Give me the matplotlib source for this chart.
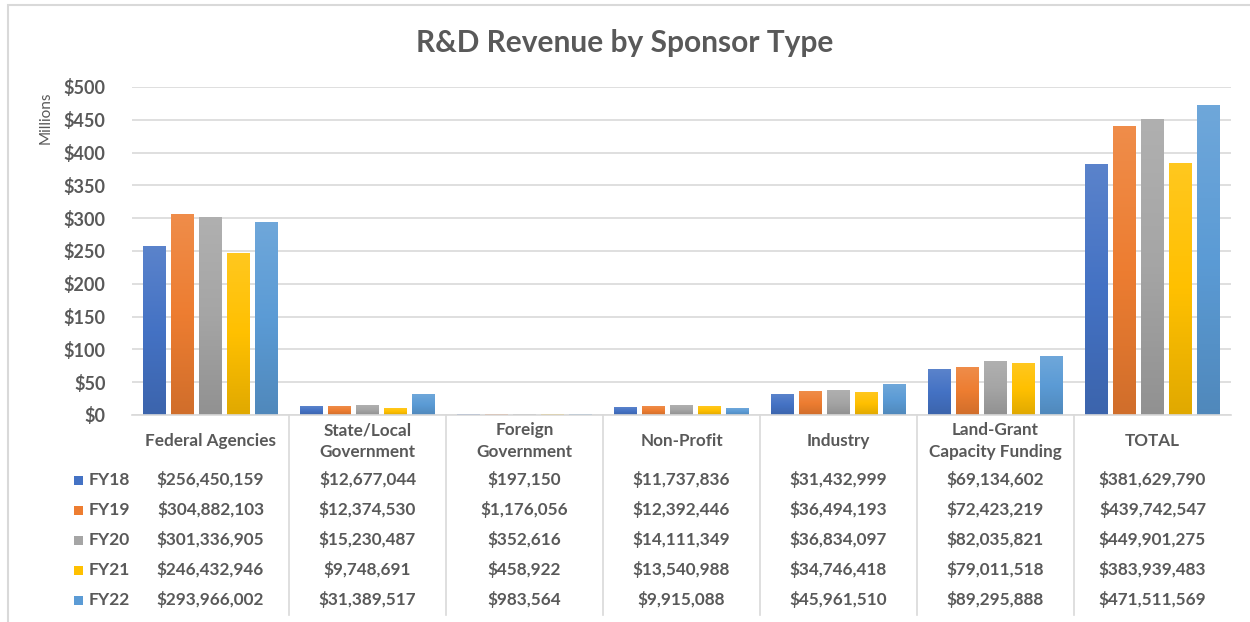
import numpy as np
import matplotlib
matplotlib.use("Agg")
import matplotlib.pyplot as plt
from matplotlib.colors import LinearSegmentedColormap, to_rgb
from matplotlib.transforms import blended_transform_factory
from matplotlib.patches import Rectangle

categories = ["Federal Agencies", "State/Local\nGovernment", "Foreign\nGovernment",
              "Non-Profit", "Industry", "Land-Grant\nCapacity Funding", "TOTAL"]
years = ["FY18", "FY19", "FY20", "FY21", "FY22"]

fy18 = [256450159, 12677044, 197150, 11737836, 31432999, 69134602, 381629790]
fy19 = [304882103, 12374530, 1176056, 12392446, 36494193, 72423219, 439742547]
fy20 = [301336905, 15230487, 352616, 14111349, 36834097, 82035821, 449901275]
fy21 = [246432946, 9748691, 458922, 13540988, 34746418, 79011518, 383939483]
fy22 = [293966002, 31389517, 983564, 9915088, 45961510, 89295888, 471511569]
series = [fy18, fy19, fy20, fy21, fy22]

colors = ["#4472C4", "#ED7D31", "#A5A5A5", "#FFC000", "#5B9BD5"]
text_color = "#595959"
grid_color = "#d9d9d9"

plt.rcParams['font.family'] = ['Lato', 'DejaVu Sans']

W, H = 1250, 622
fig = plt.figure(figsize=(W / 100, H / 100), dpi=100)


def fy(py):
    # pixel row (from top) to figure fraction
    return 1 - py / H


# outer chart border (left and top visible)
fig.patches.append(Rectangle((8 / W, -0.1), 1.2, fy(5) + 0.1, transform=fig.transFigure,
                             fill=False, edgecolor=grid_color, linewidth=1.5))

left, right, top, bottom = 132, 1231, 87, 415
ax = fig.add_axes([left / W, fy(bottom), (right - left) / W, (bottom - top) / H])

x = np.arange(len(categories))
pitch = 0.178
width = 0.146


def shade(c, f):
    r = np.array(to_rgb(c))
    if f > 0:
        return tuple(r + (1 - r) * f)
    return tuple(r * (1 + f))


grad = np.linspace(0, 1, 100).reshape(-1, 1)
for i, (vals, c) in enumerate(zip(series, colors)):
    v = np.array(vals) / 1e6
    bars = ax.bar(x + (i - 2) * pitch, v, width, color=c, zorder=2)
    cmap = LinearSegmentedColormap.from_list("g", [shade(c, -0.12), c, shade(c, 0.12)])
    for b in bars:
        bx, bw, bh = b.get_x(), b.get_width(), b.get_height()
        if bh <= 0:
            continue
        ax.imshow(grad, extent=[bx, bx + bw, 0, bh], origin="lower", aspect="auto",
                  cmap=cmap, zorder=3)

ax.set_xlim(-0.5, len(categories) - 0.5)
ax.set_ylim(0, 500)
ax.set_yticks(np.arange(0, 501, 50))
ax.set_yticklabels(["${:d}".format(t) for t in range(0, 501, 50)])
ax.set_xticks([])
ax.grid(axis="y", color=grid_color, linewidth=1.2, zorder=0)
for s in ["left", "right", "top"]:
    ax.spines[s].set_visible(False)
ax.spines["bottom"].set_color(grid_color)
ax.spines["bottom"].set_linewidth(1.2)
ax.spines["bottom"].set_zorder(5)
ax.tick_params(axis="y", length=0, pad=19, labelsize=13, labelcolor=text_color)
for lab in ax.get_yticklabels():
    lab.set_fontweight("bold")

fig.text(46 / W, fy(92), "Millions", rotation=90, ha="center", va="top",
         fontsize=11, color=text_color)

fig.text(0.5, fy(43), "R&D Revenue by Sponsor Type", ha="center", va="center",
         fontsize=21.5, fontweight="bold", color=text_color)

# data table
tr = blended_transform_factory(ax.transData, fig.transFigure)
for k in range(len(categories) - 1):
    ax.plot([k + 0.5, k + 0.5], [fy(bottom), fy(615)], transform=tr, color=grid_color,
            linewidth=1.2, clip_on=False)

for k, cat in enumerate(categories):
    ax.text(k, fy(441), cat, transform=tr, ha="center", va="center", fontsize=12.3,
            fontweight="bold", color=text_color, linespacing=1.45)

row_y = [480, 510, 540, 570, 600]
for i, (yr, vals, c) in enumerate(zip(years, series, colors)):
    fig.patches.append(Rectangle((74 / W, fy(row_y[i] + 4.5)), 9 / W, 9 / H,
                                 transform=fig.transFigure, facecolor=c, edgecolor="none"))
    fig.text(89 / W, fy(row_y[i]), yr, ha="left", va="center", fontsize=12.5,
             fontweight="bold", color=text_color)
    for k, v in enumerate(vals):
        ax.text(k, fy(row_y[i]), "${:,}".format(v), transform=tr, ha="center",
                va="center", fontsize=12.3, fontweight="bold", color=text_color)

fig.savefig("out.png", dpi=100)
